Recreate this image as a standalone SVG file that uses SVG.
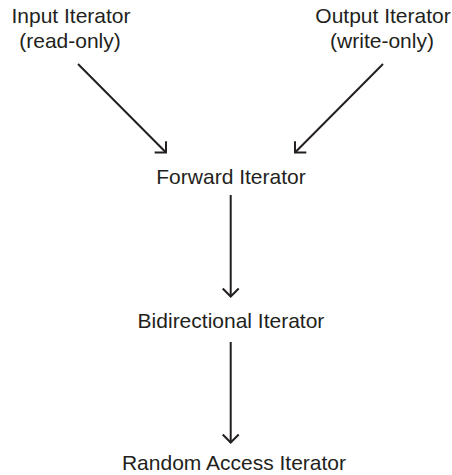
<svg xmlns="http://www.w3.org/2000/svg" width="452" height="475" viewBox="0 0 452 475">
  <style>
    .lbl { font-family: "Liberation Sans", Arial, Helvetica, sans-serif; font-size: 21px; fill: #231f20; text-anchor: middle; }
    .edge { stroke: #231f20; stroke-width: 2; fill: none; }
  </style>
  <defs>
    <marker id="arr" markerUnits="userSpaceOnUse" markerWidth="20" markerHeight="20" viewBox="-10 -10 20 20" refX="0" refY="0" orient="auto">
      <path d="M -8,-8 L 0,0 L -8,8" fill="none" stroke="#231f20" stroke-width="2"/>
    </marker>
  </defs>
  <rect width="452" height="475" fill="#ffffff"/>
  <g id="input">
    <text class="lbl" x="71" y="23">Input Iterator</text>
    <text class="lbl" x="70" y="48">(read-only)</text>
  </g>
  <g id="output">
    <text class="lbl" x="383" y="23">Output Iterator</text>
    <text class="lbl" x="382" y="48">(write-only)</text>
  </g>
  <g id="forward">
    <text class="lbl" x="231" y="184">Forward Iterator</text>
  </g>
  <g id="bidirectional">
    <text class="lbl" x="231" y="328">Bidirectional Iterator</text>
  </g>
  <g id="random">
    <text class="lbl" x="234" y="470">Random Access Iterator</text>
  </g>
  <g id="connectors">
    <line class="edge" x1="78" y1="64" x2="166" y2="152.5" marker-end="url(#arr)"/>
    <line class="edge" x1="383" y1="64" x2="295" y2="152.5" marker-end="url(#arr)"/>
    <line class="edge" x1="230.7" y1="195" x2="230.7" y2="296.5" marker-end="url(#arr)"/>
    <line class="edge" x1="230.7" y1="342" x2="230.7" y2="442.5" marker-end="url(#arr)"/>
  </g>
</svg>
